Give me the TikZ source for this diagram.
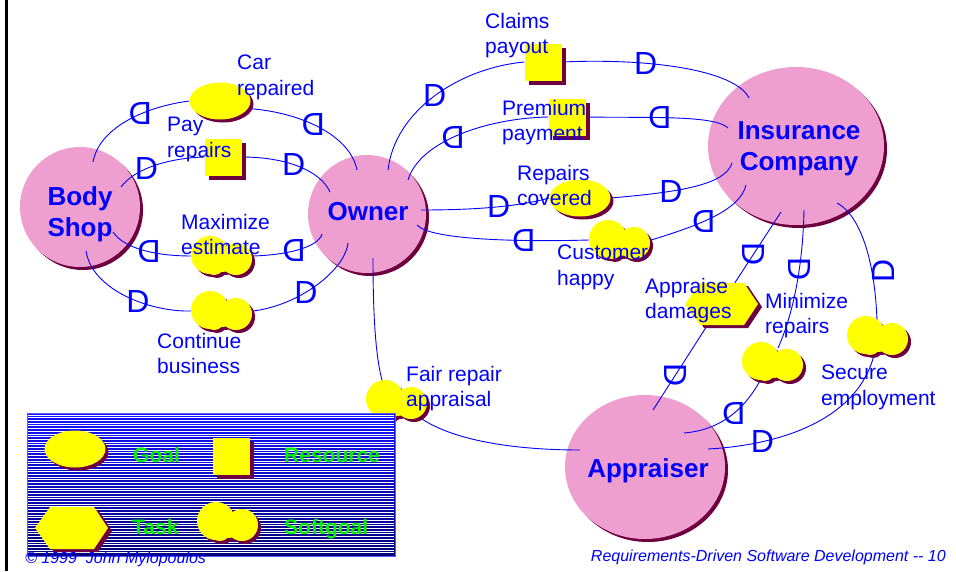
\documentclass[tikz,border=0pt]{standalone}
\usepackage{fontspec}
\setmainfont{Liberation Sans}
\usepackage{graphicx}
\usetikzlibrary{calc,shadows,shapes.geometric}
\definecolor{ablue}{HTML}{0000FF}
\definecolor{apink}{HTML}{EF9FCF}
\definecolor{ashadow}{HTML}{6E0040}
\definecolor{ayellow}{HTML}{FFFF00}
\definecolor{agreen}{HTML}{00F000}
\definecolor{lgtop}{HTML}{1414FF}
\definecolor{lgbot}{HTML}{000078}
\definecolor{lgborder}{HTML}{5A5AFF}
\pgfdeclarelayer{actorlayer}
\pgfdeclarelayer{linelayer}
\pgfsetlayers{actorlayer,linelayer,main}
\newcommand\lblfont{\fontsize{21}{25.5}\selectfont}
\newcommand\actfont{\fontsize{26}{31}\selectfont\bfseries}
\newcommand\Dmarkfont{\fontsize{32}{32}\selectfont}
\newcommand\legfont{\fontsize{21}{25}\selectfont\bfseries}
\newcommand\footfont{\fontsize{16}{19}\selectfont\itshape}
\newcommand\sgpath{(-12,-1) circle[radius=19] (-8,8) circle[radius=11] (14,3) circle[radius=16] (1,4) ellipse[x radius=12,y radius=12]}
\newcommand\taskpath{(-36,0) -- (-21,-21) -- (23,-21) -- (37,0) -- (23,21) -- (-21,21) -- cycle}
\tikzset{
  actor/.style={ellipse, fill=apink, inner sep=0pt,
    drop shadow={shadow xshift=3pt, shadow yshift=-3pt, fill=ashadow, opacity=1}},
  actortext/.style={text=ablue, font=\actfont, align=center, inner sep=0pt, anchor=north},
  goal/.style={ellipse, fill=ayellow, minimum width=61pt, minimum height=37pt, inner sep=0pt,
    drop shadow={shadow xshift=3pt, shadow yshift=-3pt, fill=ashadow, opacity=1}},
  resource/.style={rectangle, fill=ayellow, minimum size=37pt, inner sep=0pt,
    drop shadow={shadow xshift=4pt, shadow yshift=-4pt, fill=ashadow, opacity=1}},
  sgbox/.style={rectangle, minimum width=62pt, minimum height=40pt, inner sep=0pt},
  taskbox/.style={rectangle, minimum width=73pt, minimum height=42pt, inner sep=0pt},
  dep/.style={draw=ablue, line width=0.9pt},
  dmark/.style={text=ablue, font=\Dmarkfont, inner sep=0pt},
  lbl/.style={text=ablue, font=\lblfont, align=left, inner sep=0pt, anchor=north west},
  legtext/.style={text=agreen, font=\legfont, inner sep=0pt, anchor=base west},
  footer/.style={text=ablue, font=\footfont, inner sep=0pt},
  softgoal/.pic={\fill[ashadow, shift={(3,3)}] \sgpath; \fill[ayellow] \sgpath;},
  task/.pic={\fill[ashadow, shift={(4,3)}] \taskpath; \fill[ayellow] \taskpath;}
}
\begin{document}
\begin{tikzpicture}[x=1pt,y=-1pt]
\useasboundingbox (0,0) rectangle (956,571);
\draw[line width=2.5pt, black] (6.3,0) -- (6.3,571);

% actors
\begin{pgfonlayer}{actorlayer}
\node[actor, minimum width=120pt, minimum height=120pt] (bodyshop) at (80,207) {};
\node[actor, minimum width=118pt, minimum height=118pt] (owner) at (367,214) {};
\node[actor, minimum width=176pt, minimum height=158pt] (insurance) at (796,146) {};
\node[actor, minimum width=160pt, minimum height=144pt] (appraiser) at (645,467) {};
\end{pgfonlayer}

% dependums
\node[goal] (cr) at (220,101) {};
\node[resource] (pr) at (223,157) {};
\node[sgbox] (me) at (222,256) {}; \pic at (me) {softgoal};
\node[sgbox] (cb) at (222,311) {}; \pic at (cb) {softgoal};
\node[resource] (cp) at (543,62) {};
\node[resource] (pp) at (567,117) {};
\node[goal] (rc) at (580,198) {};
\node[sgbox] (ch) at (620,240) {}; \pic at (ch) {softgoal};
\node[taskbox] (ad) at (721,304) {}; \pic at (ad) {task};
\node[sgbox] (mr) at (773,362) {}; \pic at (mr) {softgoal};
\node[sgbox] (se) at (878,336) {}; \pic at (se) {softgoal};
\node[sgbox] (fa) at (397,400) {}; \pic at (fa) {softgoal};

% dependency links
\begin{pgfonlayer}{linelayer}
\draw[dep] ($(bodyshop)+(13,-45)$) .. controls (100,125) and (150,106) .. (cr.west) node[dmark,pos=0.6]{\reflectbox{D}};
\draw[dep] (cr.-15) .. controls (300,112) and (350,135) .. ($(owner)+(-10,-44)$) node[dmark,pos=0.45]{\reflectbox{D}};
\draw[dep] ($(bodyshop)+(41,-20)$) .. controls (135,168) and (170,158) .. (pr.west) node[dmark,pos=0.4]{D};
\draw[dep] (pr.east) .. controls (285,157) and (320,170) .. ($(owner)+(-37,-22)$) node[dmark,pos=0.45]{D};
\draw[dep] ($(bodyshop)+(33,25)$) .. controls (125,250) and (160,256) .. (me.west) node[dmark,pos=0.55]{\reflectbox{D}};
\draw[dep] (me.east) .. controls (285,255) and (318,248) .. ($(owner)+(-45,20)$) node[dmark,pos=0.45]{\reflectbox{D}};
\draw[dep] ($(bodyshop)+(6,44)$) .. controls (92,290) and (150,312) .. (cb.west) node[dmark,pos=0.6]{D};
\draw[dep] (cb.east) .. controls (300,305) and (345,270) .. ($(owner)+(-19,29)$) node[dmark,pos=0.4]{D};
\draw[dep] ($(owner)+(21,-44)$) .. controls (395,110) and (460,68) .. (cp.west) node[dmark,pos=0.5]{D};
\draw[dep] (cp.east) .. controls (650,58) and (735,70) .. ($(insurance)+(-47,-48)$) node[dmark,pos=0.33]{D};
\draw[dep] ($(owner)+(41,-34)$) .. controls (420,140) and (490,118) .. (pp.west) node[dmark,pos=0.45]{\reflectbox{D}};
\draw[dep] (pp.east) .. controls (650,118) and (715,115) .. ($(insurance)+(-68,-18)$) node[dmark,pos=0.4]{\reflectbox{D}};
\draw[dep] ($(owner)+(54,-4)$) .. controls (480,210) and (520,206) .. (rc.west) node[dmark,pos=0.52]{D};
\draw[dep] (rc.east) .. controls (680,192) and (725,185) .. ($(insurance)+(-64,17)$) node[dmark,pos=0.33]{D};
\draw[dep] ($(owner)+(50,11)$) .. controls (430,240) and (520,242) .. (ch.west) node[dmark,pos=0.7]{\reflectbox{D}};
\draw[dep] (ch.east) .. controls (700,225) and (740,210) .. ($(insurance)+(-50,39)$) node[dmark,pos=0.4]{\reflectbox{D}};
\draw[dep] ($(owner)+(6,44)$) .. controls (373,320) and (376,360) .. ($(fa)+(-14,-16)$);
\draw[dep] ($(fa)+(18,14)$) .. controls (450,442) and (520,450) .. ($(appraiser)+(-65,-17)$);
\draw[dep] ($(insurance)+(-15,66)$) -- (ad) node[dmark,pos=0.59,rotate=-90]{D};
\draw[dep] (ad) -- ($(appraiser)+(8,-57)$) node[dmark,pos=0.59,rotate=-90]{D};
\draw[dep] ($(insurance)+(8,64)$) .. controls (803,260) and (795,310) .. ($(mr)+(5,-14)$) node[dmark,pos=0.4,rotate=-90]{D};
\draw[dep] ($(mr)+(-11,15)$) .. controls (745,410) and (720,430) .. ($(appraiser)+(39,-34)$) node[dmark,pos=0.45]{\reflectbox{D}};
\draw[dep] ($(insurance)+(41,57)$) .. controls (860,215) and (875,260) .. ($(se)+(-1,-15)$) node[dmark,pos=0.7,rotate=90,anchor=north]{D};
\draw[dep] ($(se)+(-3,15)$) .. controls (860,420) and (780,445) .. ($(appraiser)+(63,-18)$) node[dmark,pos=0.75]{D};
\end{pgfonlayer}

% actor names
\node[actortext] (tbs) at (80,186.5) {Body\\Shop};
\node[actortext, anchor=base] (tow) at (368,220) {Owner};
\node[actortext] (tin) at (799,121.5) {Insurance\\Company};
\node[actortext, anchor=base] (tap) at (648,477) {Appraiser};

% dependum labels
\node[lbl] (lcr) at (237,55) {Car\\repaired};
\node[lbl] (lpr) at (167,117) {Pay\\repairs};
\node[lbl] (lme) at (181,214) {Maximize\\estimate};
\node[lbl] (lcb) at (157,333) {Continue\\business};
\node[lbl] (lcp) at (485,13) {Claims\\payout};
\node[lbl] (lpp) at (502,100) {Premium\\payment};
\node[lbl] (lrc) at (517,165) {Repairs\\covered};
\node[lbl] (lch) at (557,245) {Customer\\happy};
\node[lbl] (lad) at (645,278) {Appraise\\damages};
\node[lbl] (lmr) at (765,293) {Minimize\\repairs};
\node[lbl] (lse) at (821,365) {Secure\\employment};
\node[lbl] (lfa) at (406,366) {Fair repair\\appraisal};

% legend
\shade[top color=lgtop, bottom color=lgbot] (27,413) rectangle (395,556);
\foreach \yy in {415,417.7,...,555} \draw[white, line width=0.8pt] (28,\yy) -- (394,\yy);
\draw[lgborder, line width=0.8pt] (27,413) rectangle (395,556);
\node[goal] (lgoal) at (75,449) {};
\node[legtext] (tgoal) at (133,462) {Goal};
\node[resource] (lres) at (231,456) {};
\node[legtext] (tres) at (284,462) {Resource};
\node[taskbox] (ltask) at (71,528) {}; \pic at (ltask) {task};
\node[legtext] (ttask) at (132,534) {Task};
\node[sgbox] (lsg) at (228,522) {}; \pic at (lsg) {softgoal};
\node[legtext] (tsg) at (284,534) {Softgoal};

% footers
\node[footer, anchor=base west] (fl) at (25,563) {© 1999\ \ John Mylopoulos};
\node[footer, anchor=base east] (fr) at (946,561) {Requirements-Driven Software Development -{}- 10};
\end{tikzpicture}
\end{document}
